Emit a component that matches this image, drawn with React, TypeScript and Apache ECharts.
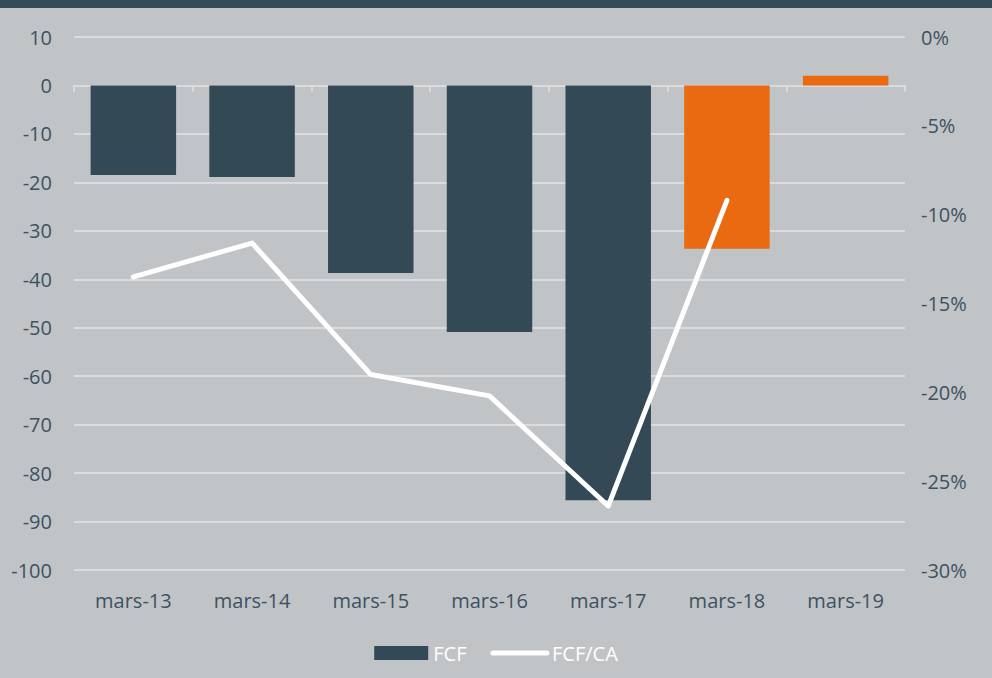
import React, { useEffect, useRef } from "react";
import * as echarts from "echarts";

const categories = ["mars-13", "mars-14", "mars-15", "mars-16", "mars-17", "mars-18", "mars-19"];
const fcfValues = [-18.5, -18.9, -38.7, -50.9, -85.6, -33.7, 2.0];
const fcfCaValues: (number | null)[] = [-13.5, -11.6, -19.0, -20.2, -26.4, -9.2, null];
const highlighted = ["mars-18", "mars-19"];

const DARK = "#334955";
const ORANGE = "#e96a10";
const BG = "#c1c4c6";
const TEXT = "#3d5262";
const GRID = "#dadbdd";

export default function App() {
  const ref = useRef<HTMLDivElement>(null);
  useEffect(() => {
    document.body.style.margin = "0";
    document.body.style.background = BG;
    const chart = echarts.init(ref.current!, null, { renderer: "svg" });
    chart.setOption({
      animation: false,
      backgroundColor: BG,
      textStyle: { fontFamily: "Open Sans" },
      graphic: [
        { type: "rect", left: 0, top: 0, shape: { width: 992, height: 8 }, style: { fill: "#344a58" } },
      ],
      grid: { left: 74, right: 87, top: 37, bottom: 108 },
      legend: {
        top: 638,
        left: "center",
        itemGap: 24,
        textStyle: { color: "#ffffff", fontSize: 20, fontFamily: "Open Sans" },
        data: [
          { name: "FCF", icon: "rect", itemStyle: { color: DARK } },
          {
            name: "FCF/CA",
            itemStyle: { opacity: 0 },
            lineStyle: { color: "#ffffff", width: 5, cap: "round" },
          },
        ],
        itemWidth: 54,
        itemHeight: 14,
      },
      xAxis: [
        {
          type: "category",
          data: categories,
          axisLine: { onZero: true, lineStyle: { color: GRID, width: 2 } },
          axisTick: { show: true, length: 6, lineStyle: { color: GRID, width: 2 } },
          axisLabel: { show: false },
        },
        {
          type: "category",
          data: categories,
          position: "bottom",
          axisLine: { show: false, onZero: false },
          axisTick: { show: false },
          axisLabel: { color: TEXT, fontSize: 20, margin: 20 },
        },
      ],
      yAxis: [
        {
          type: "value",
          min: -100,
          max: 10,
          interval: 10,
          axisLine: { show: false },
          axisTick: { show: false },
          splitLine: { lineStyle: { color: GRID, width: 2 } },
          axisLabel: { color: TEXT, fontSize: 20, margin: 22 },
        },
        {
          type: "value",
          min: -30,
          max: 0,
          interval: 5,
          position: "right",
          axisLine: { show: false },
          axisTick: { show: false },
          splitLine: { show: false },
          axisLabel: { color: TEXT, fontSize: 20, margin: 16, formatter: "{value}%" },
        },
      ],
      series: [
        {
          name: "FCF",
          type: "bar",
          xAxisIndex: 0,
          yAxisIndex: 0,
          barCategoryGap: "28%",
          itemStyle: { color: DARK },
          data: fcfValues.map((v, i) => ({
            value: v,
            itemStyle: { color: highlighted.includes(categories[i]) ? ORANGE : DARK },
          })),
        },
        {
          name: "FCF/CA",
          type: "line",
          xAxisIndex: 0,
          yAxisIndex: 1,
          showSymbol: false,
          symbol: "none",
          itemStyle: { color: "#ffffff" },
          lineStyle: { color: "#ffffff", width: 5, cap: "round", join: "round" },
          data: fcfCaValues,
        },
      ],
    });
    return () => chart.dispose();
  }, []);
  return <div ref={ref} style={{ width: 992, height: 678 }} />;
}
